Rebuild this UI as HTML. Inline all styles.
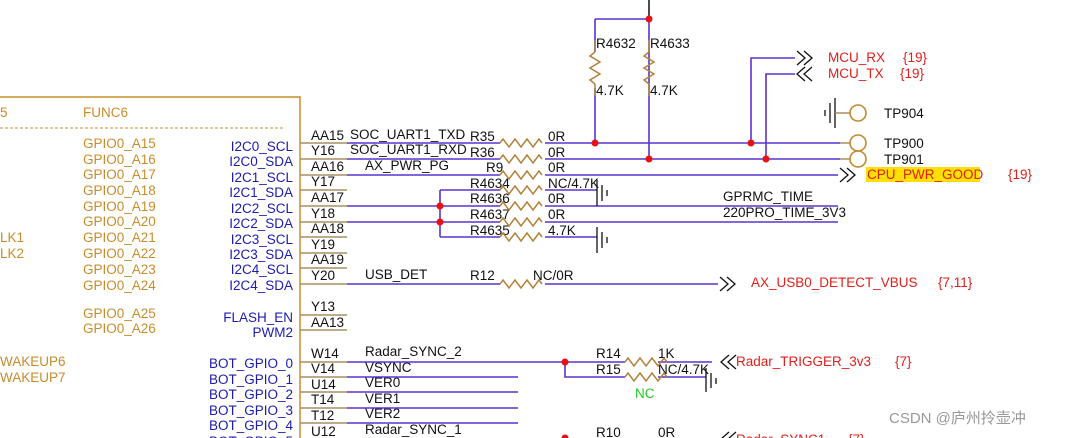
<!DOCTYPE html>
<html><head><meta charset="utf-8"><style>
body{margin:0;background:#fff;width:1076px;height:438px;overflow:hidden}
svg{display:block}
text{font-family:"Liberation Sans",sans-serif;font-size:13.5px}
.o{fill:#c98c2c}.b{fill:#1c1cb0}.k{fill:#111}.r{fill:#e0201c}
.p{stroke:#5a32d0;stroke-width:1.6;fill:none}
.t{stroke:#a89060;stroke-width:1.5;fill:none}
.z{stroke:#b0823a;stroke-width:1.5;fill:none}
.g{stroke:#111;stroke-width:1.3;fill:none}
</style></head><body>
<svg width="1076" height="438" viewBox="0 0 1076 438" xmlns="http://www.w3.org/2000/svg">
<defs>
<path id="zh" d="M0 0 l3 -4 l6 8 l6 -8 l6 8 l6 -8 l6 8 l6 -8 l3 4"/>
<path id="zv" d="M0 0 l-5 4 l10 6 l-10 6 l10 6 l-10 6 l5 4"/>
</defs>
<polyline points="0,97 300,97 300,438" fill="none" stroke="#c98c2c" stroke-width="1.5"/>
<line x1="0" y1="128" x2="285" y2="128" stroke="#c98c2c" stroke-dasharray="3,2"/>
<text x="0" y="117" class="o">5</text><text x="83" y="117" class="o">FUNC6</text>
<g class="o">
<text x="83" y="148">GPIO0_A15</text><text x="83" y="164">GPIO0_A16</text><text x="83" y="179">GPIO0_A17</text>
<text x="83" y="195">GPIO0_A18</text><text x="83" y="211">GPIO0_A19</text><text x="83" y="226">GPIO0_A20</text>
<text x="83" y="242">GPIO0_A21</text><text x="83" y="258">GPIO0_A22</text><text x="83" y="274">GPIO0_A23</text>
<text x="83" y="290">GPIO0_A24</text><text x="83" y="318">GPIO0_A25</text><text x="83" y="333">GPIO0_A26</text>
<text x="0" y="242">LK1</text><text x="0" y="258">LK2</text>
<text x="0" y="366">WAKEUP6</text><text x="0" y="382">WAKEUP7</text>
</g>
<g class="b" text-anchor="end">
<text x="293" y="151">I2C0_SCL</text><text x="293" y="166">I2C0_SDA</text><text x="293" y="182">I2C1_SCL</text>
<text x="293" y="197">I2C1_SDA</text><text x="293" y="213">I2C2_SCL</text><text x="293" y="228">I2C2_SDA</text>
<text x="293" y="244">I2C3_SCL</text><text x="293" y="259">I2C3_SDA</text><text x="293" y="274">I2C4_SCL</text>
<text x="293" y="290">I2C4_SDA</text><text x="293" y="322">FLASH_EN</text><text x="293" y="337">PWM2</text>
<text x="293" y="368">BOT_GPIO_0</text><text x="293" y="384">BOT_GPIO_1</text><text x="293" y="399">BOT_GPIO_2</text>
<text x="293" y="415">BOT_GPIO_3</text><text x="293" y="430">BOT_GPIO_4</text><text x="293" y="446">BOT_GPIO_5</text>
</g>
<g class="t">
<path d="M300 143H347M300 159H347M300 175H347M300 190H347M300 206H347M300 222H347M300 237H347M300 253H347M300 268H347M300 284H347M300 315H347M300 330H347M300 362H347M300 377H347M300 392H347M300 408H347M300 423H347"/>
</g>
<g class="k">
<text x="311" y="140">AA15</text><text x="311" y="155">Y16</text><text x="311" y="171">AA16</text><text x="311" y="186">Y17</text>
<text x="311" y="202">AA17</text><text x="311" y="218">Y18</text><text x="311" y="233">AA18</text><text x="311" y="249">Y19</text>
<text x="311" y="264">AA19</text><text x="311" y="280">Y20</text><text x="311" y="311">Y13</text><text x="311" y="327">AA13</text>
<text x="311" y="358">W14</text><text x="311" y="373">V14</text><text x="311" y="389">U14</text><text x="311" y="404">T14</text>
<text x="311" y="420">T12</text><text x="311" y="436">U12</text>
<text x="350" y="139">SOC_UART1_TXD</text><text x="350" y="154">SOC_UART1_RXD</text><text x="365" y="170">AX_PWR_PG</text>
<text x="365" y="279">USB_DET</text><text x="365" y="356">Radar_SYNC_2</text><text x="365" y="372">VSYNC</text>
<text x="365" y="387">VER0</text><text x="365" y="403">VER1</text><text x="365" y="418">VER2</text><text x="365" y="434">Radar_SYNC_1</text>
<text x="470" y="141">R35</text><text x="470" y="157">R36</text><text x="486" y="172">R9</text><text x="470" y="188">R4634</text>
<text x="470" y="203">R4636</text><text x="470" y="219">R4637</text><text x="470" y="235">R4635</text><text x="470" y="280">R12</text>
<text x="548" y="141">0R</text><text x="548" y="157">0R</text><text x="548" y="172">0R</text><text x="548" y="188">NC/4.7K</text>
<text x="548" y="203">0R</text><text x="548" y="219">0R</text><text x="548" y="235">4.7K</text><text x="533" y="280">NC/0R</text>
<text x="723" y="201">GPRMC_TIME</text><text x="723" y="217">220PRO_TIME_3V3</text>
<text x="596" y="48">R4632</text><text x="650" y="48">R4633</text><text x="596" y="95">4.7K</text><text x="650" y="95">4.7K</text>
<text x="884" y="118">TP904</text><text x="884" y="148">TP900</text><text x="884" y="164">TP901</text>
<text x="596" y="358">R14</text><text x="658" y="358">1K</text><text x="596" y="374">R15</text><text x="658" y="374">NC/4.7K</text>
<text x="596" y="437">R10</text><text x="658" y="437">0R</text>
</g>
<g class="p">
<path d="M347 143H500M545 143H840M347 159H500M545 159H840M347 175H500M545 175H838"/>
<path d="M440 190H500M545 190H597M440 190V237M347 206H500M545 206H838M347 222H500M545 222H838M440 237H500M545 237H597"/>
<path d="M347 284H500M545 284H718"/>
<path d="M595 19H649V159M595 19V52M595 88V143"/>
<path d="M751 143V58H795M766 159V74H795"/>
<path d="M347 362H625M658 362H712M565 362V377H625M658 377H706"/>
<path d="M347 377H518M347 392H518M347 408H518M347 423H518"/>
</g>
<line x1="649" y1="0" x2="649" y2="19" stroke="#111" stroke-width="1.5"/>
<g class="z">
<use href="#zh" x="500" y="143"/><use href="#zh" x="500" y="159"/><use href="#zh" x="500" y="175"/>
<use href="#zh" x="500" y="190"/><use href="#zh" x="500" y="206"/><use href="#zh" x="500" y="222"/>
<use href="#zh" x="500" y="237"/><use href="#zh" x="500" y="284"/>
<use href="#zh" x="625" y="362"/>
<use href="#zh" x="625" y="377"/>
<use href="#zv" x="595" y="52"/><use href="#zv" x="649" y="52"/>
<path d="M595 40V52M595 84V96M649 40V52M649 84V96"/>
</g>
<g fill="#e81010">
<circle cx="649" cy="19" r="3.5"/><circle cx="595" cy="143" r="3.5"/><circle cx="649" cy="159" r="3.5"/>
<circle cx="751" cy="143" r="3.5"/><circle cx="766" cy="159" r="3.5"/><circle cx="440" cy="206" r="3.5"/>
<circle cx="440" cy="222" r="3.5"/><circle cx="565" cy="362" r="3.5"/><circle cx="565" cy="438" r="3.5"/>
</g>
<g class="g">
<path d="M597 180V206M602 185V201M607 190V196"/>
<path d="M597 227V253M602 232V248M607 237V243"/>
<path d="M706 368V392M711 373V388M716 378V384"/>
<path d="M835 98V128M830 103V123M825 110V116"/>
</g>
<path d="M835 113H850M840 143H850M840 159H850" class="t"/>
<g fill="none" stroke="#c08a30" stroke-width="1.6">
<circle cx="858" cy="113" r="8"/><circle cx="858" cy="143" r="8"/><circle cx="858" cy="159" r="8"/>
</g>
<g class="g" stroke-width="1.5">
<path d="M797 51l8 7l-8 7M804 51l8 7l-8 7"/>
<path d="M805 67l-8 7l8 7M812 67l-8 7l8 7"/>
<path d="M840 168l8 7l-8 7M847 168l8 7l-8 7"/>
<path d="M720 277l8 7l-8 7M727 277l8 7l-8 7"/>
<path d="M729 355l-8 7l8 7M736 355l-8 7l8 7"/>
<path d="M729 432l-8 7l8 7M736 432l-8 7l8 7"/>
</g>
<rect x="866" y="167" width="114" height="15" fill="#ffe000"/>
<g class="r">
<text x="828" y="62">MCU_RX</text><text x="903" y="62">{19}</text>
<text x="828" y="78">MCU_TX</text><text x="900" y="78">{19}</text>
<text x="867" y="179">CPU_PWR_GOOD</text><text x="1008" y="179">{19}</text>
<text x="751" y="287">AX_USB0_DETECT_VBUS</text><text x="938" y="287">{7,11}</text>
<text x="736" y="366">Radar_TRIGGER_3v3</text><text x="895" y="366">{7}</text>
<text x="736" y="444">Radar_SYNC1</text><text x="848" y="444">{7}</text>
</g>
<text x="635" y="398" fill="#22cc22">NC</text>
<text x="889" y="423" fill="#999" style="font-family:'Liberation Sans','Noto Sans CJK SC',sans-serif;font-size:15px">CSDN @庐州拎壶冲</text>
</svg>
</body></html>
